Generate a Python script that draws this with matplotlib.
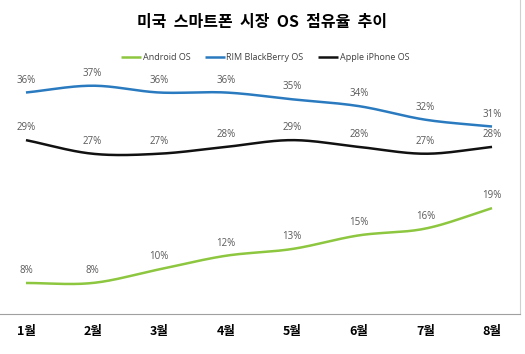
import numpy as np
import matplotlib
matplotlib.use("Agg")
import matplotlib.pyplot as plt

plt.rcParams["font.family"] = ["Noto Sans CJK KR", "DejaVu Sans"]

months = ["1월", "2월", "3월", "4월", "5월", "6월", "7월", "8월"]
android = [8, 8, 10, 12, 13, 15, 16, 19]
blackberry = [36, 37, 36, 36, 35, 34, 32, 31]
iphone = [29, 27, 27, 28, 29, 28, 27, 28]
series_names = ["Android OS", "RIM BlackBerry OS", "Apple iPhone OS"]
colors = ["#8DC63F", "#2A7AC0", "#111111"]


def smooth(x, y, n=30):
    # Catmull-Rom curve through the points (Excel-style smoothed line)
    x = np.asarray(x, float); y = np.asarray(y, float)
    px = np.concatenate([[2 * x[0] - x[1]], x, [2 * x[-1] - x[-2]]])
    py = np.concatenate([[2 * y[0] - y[1]], y, [2 * y[-1] - y[-2]]])
    xs, ys = [], []
    t = np.linspace(0, 1, n)
    for i in range(1, len(px) - 2):
        for p, out in ((px, xs), (py, ys)):
            p0, p1, p2, p3 = p[i - 1], p[i], p[i + 1], p[i + 2]
            out.append(0.5 * (2 * p1 + (-p0 + p2) * t
                              + (2 * p0 - 5 * p1 + 4 * p2 - p3) * t ** 2
                              + (-p0 + 3 * p1 - 3 * p2 + p3) * t ** 3))
    return np.concatenate(xs), np.concatenate(ys)


fig = plt.figure(figsize=(5.25, 3.54), dpi=100)
ax = fig.add_axes([0, 1 - 314 / 354, 520 / 525, 314 / 354])
ax.set_xlim(-0.39, 7.42)
ax.set_ylim(3.44, 49.6)

x = np.arange(len(months))
for vals, name, c in zip([android, blackberry, iphone], series_names, colors):
    sx, sy = smooth(x, vals)
    ax.plot(sx, sy, color=c, lw=1.8, label=name, solid_capstyle="butt")
    for xi, v in zip(x, vals):
        ax.annotate(f"{v}%", (xi, v), xytext=(0, 5), textcoords="offset points",
                    ha="center", va="bottom", fontsize=7, color="#595959",
                    family=["Open Sans", "DejaVu Sans"])

ax.set_xticks(x)
ax.set_xticklabels(months, fontsize=9, fontweight="bold")
ax.tick_params(axis="x", length=0, pad=8)
ax.set_yticks([])
for s in ["left", "top"]:
    ax.spines[s].set_visible(False)
ax.spines["right"].set_color("#d0d0d0")
ax.spines["bottom"].set_color("#a0a0a0")
ax.spines["bottom"].set_linestyle((0, (1, 1)))

fig.text(0.5, 1 - 22 / 354, "미국  스마트폰  시장  OS  점유율  추이", ha="center",
         va="center", fontsize=11.5, fontweight="bold")
fig.legend(loc="center", bbox_to_anchor=(0.505, 1 - 58 / 354), ncol=3,
           frameon=False, handlelength=2.2, handletextpad=0.2,
           columnspacing=1.6, labelcolor="#404040",
           prop={"family": ["Open Sans", "DejaVu Sans"], "size": 6.5})

fig.savefig("out.png", dpi=100)
